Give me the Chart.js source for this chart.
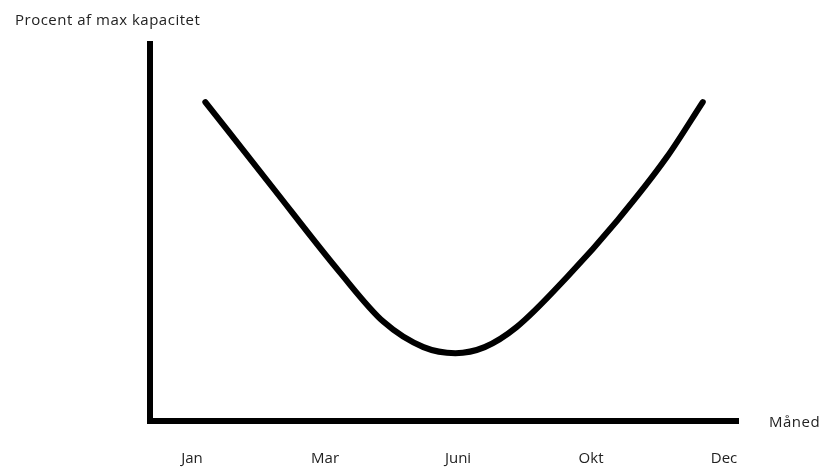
<!DOCTYPE html>
<html lang="da">
<head>
<meta charset="UTF-8">
<title>Procent af max kapacitet</title>
<script src="https://cdn.jsdelivr.net/npm/chart.js"></script>
<style>
    body { margin: 0; background: #fff; }
    .wrap { width: 825px; height: 467px; position: relative; }
</style>
</head>
<body>
<div class="wrap"><canvas id="kapChart"></canvas></div>
<script>
    // month labels and where they sit on the x axis
    const tickLabels = ['Jan', 'Mar', 'Juni', 'Okt', 'Dec'];
    const tickPos = [0, 1, 2, 3, 4];

    // hand drawn curve (x in label steps, y in % of max)
    const curveX = [0.10, 0.60, 1.11, 1.44, 1.74, 1.98, 2.20, 2.44, 2.82, 3.20, 3.57, 3.84];
    const curveY = [84.6, 62.2, 39.5, 26.3, 19.6, 18.0, 19.6, 24.9, 38.2, 53.3, 70.0, 84.6];

    const yTitle = 'Procent af max kapacitet';
    const xTitle = 'Måned';

    const points = curveX.map((x, i) => ({ x: x, y: curveY[i] }));

    const axisText = {
        id: 'axisText',
        afterDraw(chart) {
            const ctx = chart.ctx;
            const area = chart.chartArea;
            ctx.save();
            ctx.font = '15px "Open Sans"';
            ctx.letterSpacing = '0.5px';
            ctx.fillStyle = '#222';
            ctx.textAlign = 'left';
            ctx.textBaseline = 'middle';
            ctx.fillText(yTitle, 15, 21);
            ctx.fillText(xTitle, area.right + 31, area.bottom + 2);
            ctx.restore();
        }
    };

    new Chart(document.getElementById('kapChart'), {
        type: 'line',
        data: {
            datasets: [{
                data: points,
                borderColor: '#000',
                borderWidth: 6,
                borderCapStyle: 'round',
                cubicInterpolationMode: 'monotone',
                pointRadius: 0,
                fill: false
            }]
        },
        options: {
            responsive: true,
            maintainAspectRatio: false,
            animation: false,
            layout: { padding: { left: 150, top: 44, right: 87, bottom: 0 } },
            plugins: { legend: { display: false }, tooltip: { enabled: false } },
            scales: {
                x: {
                    type: 'linear',
                    min: -0.316,
                    max: 4.105,
                    afterBuildTicks: s => { s.ticks = tickPos.map(v => ({ value: v })); },
                    afterFit: s => { s.height = 46; },
                    grid: { display: false, drawTicks: false },
                    border: { display: true, color: '#000', width: 6 },
                    ticks: {
                        padding: 29,
                        maxRotation: 0,
                        autoSkip: false,
                        color: '#222',
                        font: { family: 'Open Sans', size: 15 },
                        callback: (v, i) => tickLabels[i]
                    }
                },
                y: {
                    min: 0,
                    max: 100,
                    afterFit: s => { s.width = 0; },
                    grid: { display: false, drawTicks: false },
                    border: { display: true, color: '#000', width: 6 },
                    ticks: { display: false }
                }
            }
        },
        plugins: [axisText]
    });
</script>
</body>
</html>
